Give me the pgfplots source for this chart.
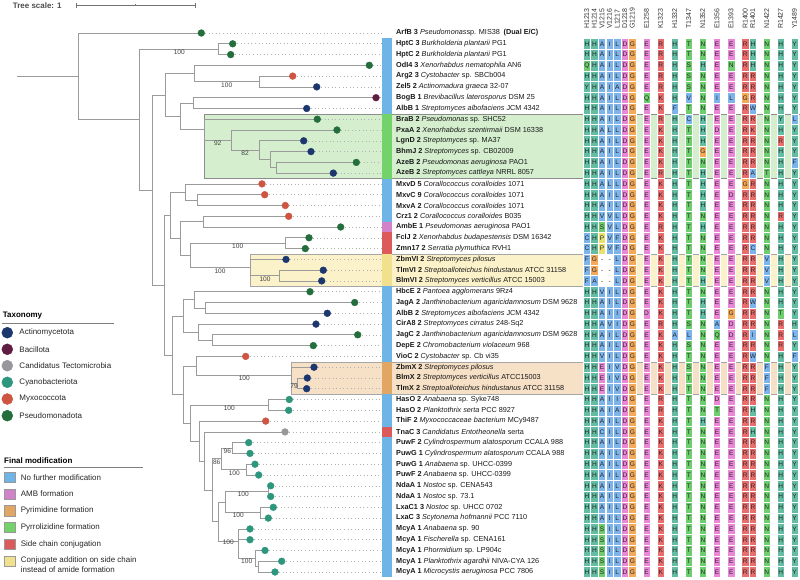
\documentclass[border=0pt]{standalone}
\usepackage{pgfplots}
\pgfplotsset{compat=1.18}
\usepackage{pgfplotstable}
\usepackage{fontspec}
\setmainfont{Liberation Sans}
\definecolor{treec}{RGB}{155,155,155}
\definecolor{act}{RGB}{28,55,110}
\definecolor{bac}{RGB}{95,30,65}
\definecolor{cand}{RGB}{150,150,155}
\definecolor{cya}{RGB}{45,150,125}
\definecolor{myx}{RGB}{205,85,65}
\definecolor{pse}{RGB}{35,110,60}
\definecolor{fNone}{RGB}{110,180,230}
\definecolor{fAMB}{RGB}{210,130,200}
\definecolor{fPyr}{RGB}{225,165,100}
\definecolor{fPyz}{RGB}{115,210,105}
\definecolor{fSide}{RGB}{220,90,90}
\definecolor{fConj}{RGB}{242,225,140}
\definecolor{bGreen}{RGB}{212,238,206}
\definecolor{bYel}{RGB}{252,242,202}
\definecolor{bOra}{RGB}{246,224,198}
\pgfdeclareplotmark{cell}{\pgfpathrectangle{\pgfpoint{-3.7bp}{-5.39bp}}{\pgfpoint{7.4bp}{10.78bp}}\pgfusepathqfillstroke}
\pgfplotsset{colormap={aacol}{rgb255=(255,255,255) rgb255=(100,188,162) rgb255=(125,180,235) rgb255=(235,135,215) rgb255=(232,110,110) rgb255=(110,205,110) rgb255=(245,170,90) rgb255=(232,225,110)}}
\pgfplotsset{
 br/.style={color=treec, line width=0.8bp, mark=none},
 dl/.style={color=black!30, line width=0.6bp, dash pattern=on 1bp off 2.6bp, mark=none},
 alc/.style={scatter, only marks, mark=cell, line width=0.3bp, point meta=explicit,
   colormap name=aacol, point meta min=0, point meta max=7,
   scatter/use mapped color={draw=white, fill=mapped color}},
}
% residue colour classes: 0 gap, 1 H/Y, 2 A I L V F W C, 3 D E, 4 K R, 5 N Q S T, 6 G, 7 P
\pgfplotstableread{
y k1 k2 k3 k4 k5 k6 k7 k8 k9 k10 k11 k12 k13 k14 k15 k16 k17 k18 k19
43.8 1 1 2 2 2 3 6 3 4 1 5 5 3 3 4 1 5 1 1
54.6 1 1 2 2 2 3 6 3 4 1 5 5 3 3 4 1 5 1 1
65.3 5 1 2 2 2 3 6 3 4 1 5 1 3 5 4 1 5 1 1
76.1 1 1 2 2 2 3 6 3 4 1 5 5 3 3 4 4 5 1 1
86.9 1 1 2 2 2 3 6 3 4 1 5 5 3 3 4 4 5 1 1
97.7 1 1 2 2 2 3 6 5 4 1 2 5 2 2 6 4 5 1 1
108.5 1 1 2 2 2 3 6 3 4 2 5 5 3 3 4 2 5 1 1
119.2 1 1 2 2 2 3 6 3 4 1 2 1 3 3 4 4 5 1 2
130.0 1 1 2 2 2 3 6 3 4 1 5 1 3 3 4 4 5 1 1
140.8 1 1 2 2 2 3 6 3 4 1 5 1 3 3 4 4 5 4 1
151.6 1 1 2 2 2 3 6 3 4 1 5 6 3 3 4 4 5 1 1
162.4 1 1 2 2 2 3 6 3 4 1 5 5 3 3 4 4 5 1 2
173.1 1 1 2 2 2 3 6 3 4 1 5 1 3 3 4 2 5 1 1
183.9 1 1 2 2 2 3 6 3 4 1 5 1 3 3 6 4 5 1 1
194.7 1 1 2 2 2 3 6 3 4 1 5 1 3 3 4 4 5 1 1
205.5 1 1 2 2 2 3 6 3 4 1 5 1 3 3 4 4 5 1 1
216.3 1 1 2 2 2 3 6 3 4 1 5 5 3 3 4 4 5 4 1
227.0 1 1 5 2 2 3 6 3 4 1 5 1 3 3 4 4 5 1 1
237.8 2 1 7 2 2 3 6 3 4 1 5 5 3 3 4 4 5 1 1
248.6 2 1 7 2 2 3 6 3 4 1 5 5 3 3 4 2 5 1 1
259.4 2 6 0 0 2 3 6 3 4 1 5 5 3 3 4 4 2 1 1
270.2 2 6 0 0 2 3 6 3 4 1 5 5 3 3 4 4 2 1 1
280.9 2 2 0 0 2 3 6 3 4 1 5 1 3 3 4 4 2 1 1
291.7 1 1 2 2 2 3 6 3 4 1 5 5 3 3 4 4 5 1 1
302.5 1 1 2 2 2 3 6 3 4 1 5 1 3 3 4 2 5 1 1
313.3 1 1 2 2 2 3 6 3 4 1 5 1 3 6 4 4 5 5 1
324.1 1 1 2 2 2 3 6 3 4 1 5 5 2 3 4 4 5 4 1
334.8 1 1 2 2 2 3 6 3 4 2 2 5 5 3 4 2 5 4 2
345.6 1 1 2 2 2 3 6 3 4 1 5 5 3 3 4 4 5 4 1
356.4 1 1 2 2 2 3 6 3 4 1 5 5 3 3 4 2 5 1 2
367.2 1 1 3 2 2 3 6 3 4 1 5 5 3 3 4 4 2 1 1
378.0 1 1 3 2 2 3 6 3 4 1 5 5 3 3 4 4 2 1 1
388.7 1 1 3 2 2 3 6 3 4 1 5 5 3 3 4 4 2 1 1
399.5 1 1 2 2 2 3 6 3 4 1 5 5 3 3 4 4 5 1 1
410.3 1 1 2 2 2 3 6 3 4 1 5 5 5 3 4 1 5 1 1
421.1 1 1 2 2 2 3 6 3 4 1 5 1 3 3 4 4 5 1 1
431.9 1 1 2 2 2 3 6 3 4 1 5 5 3 3 4 1 5 1 1
442.6 1 1 2 2 2 3 6 3 4 1 5 5 3 3 4 4 5 1 1
453.4 1 1 2 2 2 3 6 3 4 1 5 5 3 3 4 4 5 1 1
464.2 1 1 2 2 2 3 6 3 4 1 5 5 3 3 4 4 5 1 1
475.0 1 1 2 2 2 3 6 3 4 1 5 5 3 3 4 4 5 1 1
485.8 1 1 2 2 2 3 6 3 4 1 5 5 3 3 4 4 5 1 1
496.5 1 1 2 2 2 3 6 3 4 1 5 5 3 3 4 4 5 1 1
507.3 1 1 2 2 2 3 6 3 4 1 5 5 3 3 4 4 5 1 1
518.1 1 1 2 2 2 3 6 3 4 1 5 5 3 3 4 4 5 1 1
528.9 1 1 5 2 2 3 6 3 4 1 5 5 3 3 4 4 5 1 1
539.7 1 1 5 2 2 3 6 3 4 1 5 5 3 3 4 4 5 1 1
550.4 1 1 5 2 2 3 6 3 4 1 5 5 3 3 4 4 5 1 1
561.2 1 1 5 2 2 3 6 3 4 1 5 5 3 3 4 4 5 1 1
572.0 1 1 5 2 2 3 6 3 4 1 5 5 3 3 4 4 5 1 1
}\alncode
% residue letters of one alignment row
\def\alA#1{\ifx\relax#1\else\makebox[7.6bp]{#1}\expandafter\alA\fi}
\def\alS#1{\ifx\relax#1\else\hspace{6.5bp}\makebox[7.6bp]{#1}\expandafter\alS\fi}
\def\alT#1{\ifx\relax#1\else\hspace{6.3bp}\makebox[7.6bp]{#1}\expandafter\alT\fi}
\newcommand\alrow[4]{\alA#1\relax\alS#2\relax\makebox[7.6bp]{#3}\alT#4\relax}
\begin{document}
\begin{tikzpicture}
\begin{axis}[name=ax, width=800bp, height=579bp, scale only axis,
  xmin=0, xmax=800, ymin=0, ymax=579, y dir=reverse, hide axis, clip=false]
% highlight boxes
\addplot[fill=bGreen, draw=black!45, line width=0.5bp] coordinates {(204.3,113.9) (800,113.9) (800,178.5) (204.3,178.5)} --cycle;
\addplot[fill=bYel, draw=black!35, line width=0.5bp] coordinates {(250,254.0) (800,254.0) (800,286.3) (250,286.3)} --cycle;
\addplot[fill=bOra, draw=black!35, line width=0.5bp] coordinates {(291.7,361.8) (800,361.8) (800,394.1) (291.7,394.1)} --cycle;
% colour strip
\addplot[fill=fNone, draw=none] coordinates {(382,38.4) (392,38.4) (392,113.9) (382,113.9)} --cycle;
\addplot[fill=fPyz, draw=none] coordinates {(382,113.9) (392,113.9) (392,178.5) (382,178.5)} --cycle;
\addplot[fill=fNone, draw=none] coordinates {(382,178.5) (392,178.5) (392,221.6) (382,221.6)} --cycle;
\addplot[fill=fAMB, draw=none] coordinates {(382,221.6) (392,221.6) (392,232.4) (382,232.4)} --cycle;
\addplot[fill=fSide, draw=none] coordinates {(382,232.4) (392,232.4) (392,254.0) (382,254.0)} --cycle;
\addplot[fill=fConj, draw=none] coordinates {(382,254.0) (392,254.0) (392,286.3) (382,286.3)} --cycle;
\addplot[fill=fNone, draw=none] coordinates {(382,286.3) (392,286.3) (392,361.8) (382,361.8)} --cycle;
\addplot[fill=fPyr, draw=none] coordinates {(382,361.8) (392,361.8) (392,394.1) (382,394.1)} --cycle;
\addplot[fill=fNone, draw=none] coordinates {(382,394.1) (392,394.1) (392,426.5) (382,426.5)} --cycle;
\addplot[fill=fSide, draw=none] coordinates {(382,426.5) (392,426.5) (392,437.3) (382,437.3)} --cycle;
\addplot[fill=fNone, draw=none] coordinates {(382,437.3) (392,437.3) (392,577.4) (382,577.4)} --cycle;
% dotted leader lines
\addplot[dl] coordinates {(205,33.0) (382,33.0)};
\addplot[dl] coordinates {(237,43.8) (382,43.8)};
\addplot[dl] coordinates {(235,54.6) (382,54.6)};
\addplot[dl] coordinates {(373,65.3) (382,65.3)};
\addplot[dl] coordinates {(297,76.1) (382,76.1)};
\addplot[dl] coordinates {(321,86.9) (382,86.9)};
\addplot[dl] coordinates {(380,97.7) (382,97.7)};
\addplot[dl] coordinates {(311,108.5) (382,108.5)};
\addplot[dl] coordinates {(321,119.2) (382,119.2)};
\addplot[dl] coordinates {(341,130.0) (382,130.0)};
\addplot[dl] coordinates {(308,140.8) (382,140.8)};
\addplot[dl] coordinates {(315,151.6) (382,151.6)};
\addplot[dl] coordinates {(360,162.4) (382,162.4)};
\addplot[dl] coordinates {(337,173.1) (382,173.1)};
\addplot[dl] coordinates {(266,183.9) (382,183.9)};
\addplot[dl] coordinates {(269,194.7) (382,194.7)};
\addplot[dl] coordinates {(289,205.5) (382,205.5)};
\addplot[dl] coordinates {(293,216.3) (382,216.3)};
\addplot[dl] coordinates {(345,227.0) (382,227.0)};
\addplot[dl] coordinates {(313,237.8) (382,237.8)};
\addplot[dl] coordinates {(309,248.6) (382,248.6)};
\addplot[dl] coordinates {(290,259.4) (382,259.4)};
\addplot[dl] coordinates {(327,270.2) (382,270.2)};
\addplot[dl] coordinates {(326,280.9) (382,280.9)};
\addplot[dl] coordinates {(314,291.7) (382,291.7)};
\addplot[dl] coordinates {(359,302.5) (382,302.5)};
\addplot[dl] coordinates {(331,313.3) (382,313.3)};
\addplot[dl] coordinates {(320,324.1) (382,324.1)};
\addplot[dl] coordinates {(362,334.8) (382,334.8)};
\addplot[dl] coordinates {(317,345.6) (382,345.6)};
\addplot[dl] coordinates {(250,356.4) (382,356.4)};
\addplot[dl] coordinates {(318,367.2) (382,367.2)};
\addplot[dl] coordinates {(311,378.0) (382,378.0)};
\addplot[dl] coordinates {(311,388.7) (382,388.7)};
\addplot[dl] coordinates {(293,399.5) (382,399.5)};
\addplot[dl] coordinates {(293,410.3) (382,410.3)};
\addplot[dl] coordinates {(270,421.1) (382,421.1)};
\addplot[dl] coordinates {(289,431.9) (382,431.9)};
\addplot[dl] coordinates {(253,442.6) (382,442.6)};
\addplot[dl] coordinates {(254,453.4) (382,453.4)};
\addplot[dl] coordinates {(259,464.2) (382,464.2)};
\addplot[dl] coordinates {(263,475.0) (382,475.0)};
\addplot[dl] coordinates {(275,485.8) (382,485.8)};
\addplot[dl] coordinates {(275,496.5) (382,496.5)};
\addplot[dl] coordinates {(277,507.3) (382,507.3)};
\addplot[dl] coordinates {(272,518.1) (382,518.1)};
\addplot[dl] coordinates {(254,528.9) (382,528.9)};
\addplot[dl] coordinates {(254,539.7) (382,539.7)};
\addplot[dl] coordinates {(269,550.4) (382,550.4)};
\addplot[dl] coordinates {(286,561.2) (382,561.2)};
\addplot[dl] coordinates {(279,572.0) (382,572.0)};
% tree
\addplot[br] coordinates {(17.3,76.4) (78.3,76.4)};
\addplot[br] coordinates {(201.3,33.0) (78.3,33.0) (78.3,119.7) (139.3,119.7)};
\addplot[br] coordinates {(218.3,49.2) (139.3,49.2) (139.3,190.1) (152,190.1)};
\addplot[br] coordinates {(232.7,43.8) (218.3,43.8) (218.3,54.6) (230.7,54.6)};
\addplot[br] coordinates {(165.7,94.9) (152,94.9) (152,285.3) (164.3,285.3)};
\addplot[br] coordinates {(194,73.4) (165.7,73.4) (165.7,116.4) (180,116.4)};
\addplot[br] coordinates {(369.3,65.3) (194,65.3) (194,81.5) (259.3,81.5)};
\addplot[br] coordinates {(292.7,76.1) (259.3,76.1) (259.3,86.9) (316.7,86.9)};
\addplot[br] coordinates {(193.7,103.1) (180,103.1) (180,129.7) (204.3,129.7)};
\addplot[br] coordinates {(376,97.7) (193.7,97.7) (193.7,108.5) (306.7,108.5)};
\addplot[br] coordinates {(317.3,119.2) (204.3,119.2) (204.3,140.1) (231,140.1)};
\addplot[br] coordinates {(337,130.0) (231,130.0) (231,150.2) (259.3,150.2)};
\addplot[br] coordinates {(303.7,140.8) (259.3,140.8) (259.3,159.7) (270.7,159.7)};
\addplot[br] coordinates {(311,151.6) (270.7,151.6) (270.7,167.8) (276.7,167.8)};
\addplot[br] coordinates {(356.3,162.4) (276.7,162.4) (276.7,173.1) (333.3,173.1)};
\addplot[br] coordinates {(170.3,215.3) (164.3,215.3) (164.3,355.3) (172.3,355.3)};
\addplot[br] coordinates {(185.3,192.0) (170.3,192.0) (170.3,238.5) (180.3,238.5)};
\addplot[br] coordinates {(262,183.9) (185.3,183.9) (185.3,200.1) (197.3,200.1)};
\addplot[br] coordinates {(264.7,194.7) (197.3,194.7) (197.3,205.5) (285.3,205.5)};
\addplot[br] coordinates {(203.3,221.7) (180.3,221.7) (180.3,255.3) (190,255.3)};
\addplot[br] coordinates {(288.7,216.3) (203.3,216.3) (203.3,227.0) (340.7,227.0)};
\addplot[br] coordinates {(285,243.2) (190,243.2) (190,267.5) (250,267.5)};
\addplot[br] coordinates {(309,237.8) (285,237.8) (285,248.6) (305.3,248.6)};
\addplot[br] coordinates {(286,259.4) (250,259.4) (250,275.6) (279.3,275.6)};
\addplot[br] coordinates {(323.3,270.2) (279.3,270.2) (279.3,280.9) (321.7,280.9)};
\addplot[br] coordinates {(183,316.0) (172.3,316.0) (172.3,394.5) (183,394.5)};
\addplot[br] coordinates {(194,299.8) (183,299.8) (183,332.2) (198.7,332.2)};
\addplot[br] coordinates {(310,291.7) (194,291.7) (194,307.9) (205,307.9)};
\addplot[br] coordinates {(354.7,302.5) (205,302.5) (205,313.3) (327.3,313.3)};
\addplot[br] coordinates {(316,324.1) (198.7,324.1) (198.7,340.2) (212.7,340.2)};
\addplot[br] coordinates {(357.7,334.8) (212.7,334.8) (212.7,345.6) (313.3,345.6)};
\addplot[br] coordinates {(196.7,365.9) (183,365.9) (183,423.0) (190,423.0)};
\addplot[br] coordinates {(245.7,356.4) (196.7,356.4) (196.7,375.3) (291.7,375.3)};
\addplot[br] coordinates {(314,367.2) (291.7,367.2) (291.7,383.4) (297.7,383.4)};
\addplot[br] coordinates {(307.3,378.0) (297.7,378.0) (297.7,388.7) (306.7,388.7)};
\addplot[br] coordinates {(268.7,404.9) (190,404.9) (190,441.1) (199.3,441.1)};
\addplot[br] coordinates {(289.3,399.5) (268.7,399.5) (268.7,410.3) (288.7,410.3)};
\addplot[br] coordinates {(265.7,421.1) (199.3,421.1) (199.3,461.0) (204,461.0)};
\addplot[br] coordinates {(285,431.9) (204,431.9) (204,490.2) (212.3,490.2)};
\addplot[br] coordinates {(221.7,458.8) (212.3,458.8) (212.3,521.5) (218.3,521.5)};
\addplot[br] coordinates {(232.7,448.0) (221.7,448.0) (221.7,469.6) (246,469.6)};
\addplot[br] coordinates {(248.7,442.6) (232.7,442.6) (232.7,453.4) (250,453.4)};
\addplot[br] coordinates {(255,464.2) (246,464.2) (246,475.0) (258.7,475.0)};
\addplot[br] coordinates {(225,502.0) (218.3,502.0) (218.3,541) (238.3,541)};
\addplot[br] coordinates {(268.3,491.2) (225,491.2) (225,512.7) (260,512.7)};
\addplot[br] coordinates {(270.7,485.8) (268.3,485.8) (268.3,496.5) (270.7,496.5)};
\addplot[br] coordinates {(273.3,507.3) (260,507.3) (260,518.1) (268.3,518.1)};
\addplot[br] coordinates {(250,528.9) (238.3,528.9) (238.3,558.5) (255,558.5)};
\addplot[br] coordinates {(238.3,539.7) (250,539.7)};
\addplot[br] coordinates {(265,550.4) (255,550.4) (255,566.6) (258.3,566.6)};
\addplot[br] coordinates {(281.7,561.2) (258.3,561.2) (258.3,572.0) (275,572.0)};
% tips
\addplot[only marks, mark=*, mark size=3.4bp, color=pse] coordinates {(201.3,33.0) (232.7,43.8) (230.7,54.6) (369.3,65.3) (317.3,119.2) (337,130.0) (356.3,162.4) (340.7,227.0) (309,237.8) (305.3,248.6) (310,291.7) (354.7,302.5) (357.7,334.8) (313.3,345.6)};
\addplot[only marks, mark=*, mark size=3.4bp, color=myx] coordinates {(292.7,76.1) (262,183.9) (264.7,194.7) (285.3,205.5) (288.7,216.3) (245.7,356.4) (265.7,421.1)};
\addplot[only marks, mark=*, mark size=3.4bp, color=act] coordinates {(316.7,86.9) (306.7,108.5) (303.7,140.8) (311,151.6) (333.3,173.1) (286,259.4) (323.3,270.2) (321.7,280.9) (327.3,313.3) (316,324.1) (314,367.2) (307.3,378.0) (306.7,388.7)};
\addplot[only marks, mark=*, mark size=3.4bp, color=bac] coordinates {(376,97.7)};
\addplot[only marks, mark=*, mark size=3.4bp, color=cand] coordinates {(285,431.9)};
\addplot[only marks, mark=*, mark size=3.4bp, color=cya] coordinates {(289.3,399.5) (288.7,410.3) (248.7,442.6) (250,453.4) (255,464.2) (258.7,475.0) (270.7,485.8) (270.7,496.5) (273.3,507.3) (268.3,518.1) (250,528.9) (250,539.7) (265,550.4) (281.7,561.2) (275,572.0)};
% bootstrap
\begin{scope}[every node/.style={font=\fontsize{6.6}{7}\selectfont, text=black!75, inner sep=0pt}]
\node at (179.3,52.7) {100};
\node at (226.7,85) {100};
\node at (217.7,143.3) {92};
\node at (245,153.7) {82};
\node at (237.7,246.7) {100};
\node at (220,271) {100};
\node at (265,279) {100};
\node at (244.3,378.7) {100};
\node at (294,386.3) {79};
\node at (229.3,408.3) {100};
\node at (227.3,451.7) {96};
\node at (216.7,462.3) {86};
\node at (234.3,473.3) {100};
\node at (243.3,494.3) {100};
\node at (238.3,515.7) {100};
\node at (228.3,542.3) {100};
\node at (246.7,561.7) {100};
\end{scope}
% labels
\begin{scope}[every node/.style={anchor=west, inner sep=0pt, font=\fontsize{7.3}{8}\selectfont, text=black!90}]
\node at (396,33.0) {\textbf{ArfB 3} \textit{Pseudomonas}sp. MIS38\enspace\textbf{(Dual E/C)}};
\node at (396,43.8) {\textbf{HptC 3} \textit{Burkholderia plantarii} PG1};
\node at (396,54.6) {\textbf{HptC 2} \textit{Burkholderia plantarii} PG1};
\node at (396,65.3) {\textbf{OdI4 3} \textit{Xenorhabdus nematophila} AN6};
\node at (396,76.1) {\textbf{Arg2 3} \textit{Cystobacter} sp. SBCb004};
\node at (396,86.9) {\textbf{Zel5 2} \textit{Actinomadura graeca} 32-07};
\node at (396,97.7) {\textbf{BogB 1} \textit{Brevibacillus laterosporus} DSM 25};
\node at (396,108.5) {\textbf{AlbB 1} \textit{Streptomyces albofaciens} JCM 4342};
\node at (396,119.2) {\textbf{BraB 2} \textit{Pseudomonas} sp. SHC52};
\node at (396,130.0) {\textbf{PxaA 2} \textit{Xenorhabdus szentirmaii} DSM 16338};
\node at (396,140.8) {\textbf{LgnD 2} \textit{Streptomyces} sp. MA37};
\node at (396,151.6) {\textbf{BhmJ 2} \textit{Streptomyces} sp. CB02009};
\node at (396,162.4) {\textbf{AzeB 2} \textit{Pseudomonas aeruginosa} PAO1};
\node at (396,173.1) {\textbf{AzeB 2} \textit{Streptomyces cattleya} NRRL 8057};
\node at (396,183.9) {\textbf{MxvD 5} \textit{Corallococcus coralloides} 1071};
\node at (396,194.7) {\textbf{MxvC 9} \textit{Corallococcus coralloides} 1071};
\node at (396,205.5) {\textbf{MxvA 2} \textit{Corallococcus coralloides} 1071};
\node at (396,216.3) {\textbf{Crz1 2} \textit{Corallococcus coralloides} B035};
\node at (396,227.0) {\textbf{AmbE 1} \textit{Pseudomonas aeruginosa} PAO1};
\node at (396,237.8) {\textbf{FclJ 2} \textit{Xenorhabdus budapestensis} DSM 16342};
\node at (396,248.6) {\textbf{Zmn17 2} \textit{Serratia plymuthica} RVH1};
\node at (396,259.4) {\textbf{ZbmVI 2} \textit{Streptomyces pilosus}};
\node at (396,270.2) {\textbf{TlmVI 2} \textit{Streptoalloteichus hindustanus} ATCC 31158};
\node at (396,280.9) {\textbf{BlmVI 2} \textit{Streptomyces verticillus} ATCC 15003};
\node at (396,291.7) {\textbf{HbcE 2} \textit{Pantoea agglomerans} 9Rz4};
\node at (396,302.5) {\textbf{JagA 2} \textit{Janthinobacterium agaricidamnosum} DSM 9628};
\node at (396,313.3) {\textbf{AlbB 2} \textit{Streptomyces albofaciens} JCM 4342};
\node at (396,324.1) {\textbf{CirA8 2} \textit{Streptomyces cirratus} 248-Sq2};
\node at (396,334.8) {\textbf{JagC 2} \textit{Janthinobacterium agaricidamnosum} DSM 9628};
\node at (396,345.6) {\textbf{DepE 2} \textit{Chromobacterium violaceum} 968};
\node at (396,356.4) {\textbf{VioC 2} \textit{Cystobacter} sp. Cb vi35};
\node at (396,367.2) {\textbf{ZbmX 2} \textit{Streptomyces pilosus}};
\node at (396,378.0) {\textbf{BlmX 2} \textit{Streptomyces verticillus} ATCC15003};
\node at (396,388.7) {\textbf{TlmX 2} \textit{Streptoalloteichus hindustanus} ATCC 31158};
\node at (396,399.5) {\textbf{HasO 2} \textit{Anabaena} sp. Syke748};
\node at (396,410.3) {\textbf{HasO 2} \textit{Planktothrix serta} PCC 8927};
\node at (396,421.1) {\textbf{ThiF 2} \textit{Myxococcaceae bacterium} MCy9487};
\node at (396,431.9) {\textbf{TnaC 3} \textit{Candidatus Entotheonella} serta};
\node at (396,442.6) {\textbf{PuwF 2} \textit{Cylindrospermum alatosporum} CCALA 988};
\node at (396,453.4) {\textbf{PuwG 1} \textit{Cylindrospermum alatosporum} CCALA 988};
\node at (396,464.2) {\textbf{PuwG 1} \textit{Anabaena} sp. UHCC-0399};
\node at (396,475.0) {\textbf{PuwF 2} \textit{Anabaena} sp. UHCC-0399};
\node at (396,485.8) {\textbf{NdaA 1} \textit{Nostoc} sp. CENA543};
\node at (396,496.5) {\textbf{NdaA 1} \textit{Nostoc} sp. 73.1};
\node at (396,507.3) {\textbf{LxaC1 3} \textit{Nostoc} sp. UHCC 0702};
\node at (396,518.1) {\textbf{LxaC 3} \textit{Scytonema hofmannii} PCC 7110};
\node at (396,528.9) {\textbf{McyA 1} \textit{Anabaena} sp. 90};
\node at (396,539.7) {\textbf{McyA 1} \textit{Fischerella} sp. CENA161};
\node at (396,550.4) {\textbf{McyA 1} \textit{Phormidium} sp. LP904c};
\node at (396,561.2) {\textbf{McyA 1} \textit{Planktothrix agardhii} NIVA-CYA 126};
\node at (396,572.0) {\textbf{McyA 1} \textit{Microcystis aeruginosa} PCC 7806};
\end{scope}
% alignment cells
\addplot[alc] table[x expr=586.7, y=y, meta=k1] {\alncode};
\addplot[alc] table[x expr=594.3, y=y, meta=k2] {\alncode};
\addplot[alc] table[x expr=601.9, y=y, meta=k3] {\alncode};
\addplot[alc] table[x expr=609.5, y=y, meta=k4] {\alncode};
\addplot[alc] table[x expr=617.1, y=y, meta=k5] {\alncode};
\addplot[alc] table[x expr=624.7, y=y, meta=k6] {\alncode};
\addplot[alc] table[x expr=632.3, y=y, meta=k7] {\alncode};
\addplot[alc] table[x expr=646.4, y=y, meta=k8] {\alncode};
\addplot[alc] table[x expr=660.5, y=y, meta=k9] {\alncode};
\addplot[alc] table[x expr=674.6, y=y, meta=k10] {\alncode};
\addplot[alc] table[x expr=688.7, y=y, meta=k11] {\alncode};
\addplot[alc] table[x expr=702.8, y=y, meta=k12] {\alncode};
\addplot[alc] table[x expr=716.9, y=y, meta=k13] {\alncode};
\addplot[alc] table[x expr=731.0, y=y, meta=k14] {\alncode};
\addplot[alc] table[x expr=745.1, y=y, meta=k15] {\alncode};
\addplot[alc] table[x expr=752.7, y=y, meta=k16] {\alncode};
\addplot[alc] table[x expr=766.6, y=y, meta=k17] {\alncode};
\addplot[alc] table[x expr=780.5, y=y, meta=k18] {\alncode};
\addplot[alc] table[x expr=794.4, y=y, meta=k19] {\alncode};
% headers
\begin{scope}[every node/.style={rotate=90, anchor=west, inner sep=0pt, font=\fontsize{7}{8}\selectfont, text=black!80}]
\node at (586.7,29) {H1213};
\node at (594.3,29) {H1214};
\node at (601.9,29) {V1215};
\node at (609.5,29) {V1216};
\node at (617.1,29) {L1217};
\node at (624.7,29) {D1218};
\node at (632.3,29) {G1219};
\node at (646.4,29) {E1258};
\node at (660.5,29) {K1323};
\node at (674.6,29) {H1332};
\node at (688.7,29) {T1347};
\node at (702.8,29) {N1352};
\node at (716.9,29) {E1356};
\node at (731.0,29) {E1393};
\node at (745.1,29) {R1400};
\node at (752.7,29) {R1401};
\node at (766.6,29) {N1422};
\node at (780.5,29) {R1427};
\node at (794.4,29) {Y1489};
\end{scope}
% tree scale
\node[anchor=west, inner sep=0pt, font=\bfseries\fontsize{8}{9}\selectfont, text=black!70] at (12.7,5.3) {Tree scale: 1};
\addplot[color=black!55, line width=0.9bp] coordinates {(76,5.3) (195,5.3)};
\addplot[color=black!55, line width=0.9bp] coordinates {(76,2.6) (76,8)};
\addplot[color=black!55, line width=0.9bp] coordinates {(195,2.6) (195,8)};
\addplot[color=black!55, line width=0.7bp] coordinates {(135,4.3) (135,6.3)};
% legend: taxonomy
\node[anchor=west, inner sep=0pt, font=\bfseries\fontsize{8}{9}\selectfont] at (2.7,316) {Taxonomy};
\addplot[color=black!50, line width=0.9bp] coordinates {(2,323.3) (114,323.3)};
\addplot[only marks, mark=*, mark size=5.5bp, color=act] coordinates {(7.3,332.7)};
\addplot[only marks, mark=*, mark size=5.5bp, color=bac] coordinates {(7.3,349.3)};
\addplot[only marks, mark=*, mark size=5.5bp, color=cand] coordinates {(7.3,365.7)};
\addplot[only marks, mark=*, mark size=5.5bp, color=cya] coordinates {(7.3,382.3)};
\addplot[only marks, mark=*, mark size=5.5bp, color=myx] coordinates {(7.3,399.0)};
\addplot[only marks, mark=*, mark size=5.5bp, color=pse] coordinates {(7.3,415.7)};
\begin{scope}[every node/.style={anchor=west, inner sep=0pt, font=\fontsize{8}{9}\selectfont, text=black!85}]
\node at (19.3,332.7) {Actinomycetota};
\node at (19.3,349.3) {Bacillota};
\node at (19.3,365.7) {Candidatus Tectomicrobia};
\node at (19.3,382.3) {Cyanobacteriota};
\node at (19.3,399.0) {Myxococcota};
\node at (19.3,415.7) {Pseudomonadota};
\end{scope}
% legend: final modification
\node[anchor=west, inner sep=0pt, font=\bfseries\fontsize{8}{9}\selectfont] at (4,461) {Final modification};
\addplot[color=black!50, line width=0.9bp] coordinates {(4,467.7) (142.7,467.7)};
\addplot[only marks, mark=square*, mark size=5.3bp, mark options={fill=fNone, draw=black!40, line width=0.4bp}] coordinates {(9.5,477.3)};
\addplot[only marks, mark=square*, mark size=5.3bp, mark options={fill=fAMB, draw=black!40, line width=0.4bp}] coordinates {(9.5,494.0)};
\addplot[only marks, mark=square*, mark size=5.3bp, mark options={fill=fPyr, draw=black!40, line width=0.4bp}] coordinates {(9.5,510.7)};
\addplot[only marks, mark=square*, mark size=5.3bp, mark options={fill=fPyz, draw=black!40, line width=0.4bp}] coordinates {(9.5,527.3)};
\addplot[only marks, mark=square*, mark size=5.3bp, mark options={fill=fSide, draw=black!40, line width=0.4bp}] coordinates {(9.5,544.0)};
\addplot[only marks, mark=square*, mark size=5.3bp, mark options={fill=fConj, draw=black!40, line width=0.4bp}] coordinates {(9.5,561.0)};
\begin{scope}[every node/.style={anchor=west, inner sep=0pt, font=\fontsize{8}{9}\selectfont, text=black!85}]
\node at (20.7,477.3) {No further modification};
\node at (20.7,494.0) {AMB formation};
\node at (20.7,510.7) {Pyrimidine formation};
\node at (20.7,527.3) {Pyrrolizidine formation};
\node at (20.7,544.0) {Side chain conjugation};
\node at (20.7,560.7) {Conjugate addition on side chain};
\node at (20.7,569.5) {instead of amide formation};
\end{scope}
\end{axis}
% alignment letters, drawn on top of the cells (axis units: 1 unit = 1bp, y downwards from the top edge)
\begin{scope}[shift={(ax.north west)}, x=1bp, y=-1bp, every node/.style={anchor=west, inner sep=0pt, text height=4.7bp, text depth=0pt, font=\fontsize{6.6}{7}\selectfont, text=black!85}]
\node at (582.9,43.8) {\alrow{HHAILDG}{ERHTNEER}{H}{NHY}};
\node at (582.9,54.6) {\alrow{HHAILDG}{ERHTNEER}{H}{NHY}};
\node at (582.9,65.3) {\alrow{QHAILDG}{ERHSHENR}{H}{NHY}};
\node at (582.9,76.1) {\alrow{HHAILDG}{ERHSNEER}{R}{NHY}};
\node at (582.9,86.9) {\alrow{YHAIADG}{ERHSNEER}{R}{NHY}};
\node at (582.9,97.7) {\alrow{HHAILDG}{QKHVNILG}{R}{NHY}};
\node at (582.9,108.5) {\alrow{HHAILDG}{EKFTNEER}{W}{NHY}};
\node at (582.9,119.2) {\alrow{HHAILDG}{ERHCHEER}{R}{NYL}};
\node at (582.9,130.0) {\alrow{HHALLDG}{EKHTHDER}{K}{NHY}};
\node at (582.9,140.8) {\alrow{HHAILDG}{EKHTHEER}{R}{NRY}};
\node at (582.9,151.6) {\alrow{HHAILDG}{EKHTGEER}{R}{NHY}};
\node at (582.9,162.4) {\alrow{HHAILDG}{EKHTNEER}{R}{NHF}};
\node at (582.9,173.1) {\alrow{HHAILDG}{ERHTHEER}{A}{THY}};
\node at (582.9,183.9) {\alrow{HHALLDG}{EKHTHEEG}{R}{NHY}};
\node at (582.9,194.7) {\alrow{HHAILDG}{EKHTHEDR}{R}{NHY}};
\node at (582.9,205.5) {\alrow{HHAILDG}{EKHTHEER}{R}{NHY}};
\node at (582.9,216.3) {\alrow{HHVVLDG}{EKHTNEER}{R}{NRY}};
\node at (582.9,227.0) {\alrow{HHSVLDG}{ERHTHEER}{R}{NHY}};
\node at (582.9,237.8) {\alrow{CHPVFDG}{EKHTNEER}{R}{NHY}};
\node at (582.9,248.6) {\alrow{CHPVFDG}{EKHTNEER}{C}{NHY}};
\node at (582.9,259.4) {\alrow{FG--LDG}{EKHTNEER}{R}{VHY}};
\node at (582.9,270.2) {\alrow{FG--LDG}{EKHTNEER}{R}{VHY}};
\node at (582.9,280.9) {\alrow{FA--LDG}{EKHTHEER}{R}{VHY}};
\node at (582.9,291.7) {\alrow{HHVILDG}{EKHTNEER}{R}{NHY}};
\node at (582.9,302.5) {\alrow{HHAILDG}{EKHTHEER}{W}{NHY}};
\node at (582.9,313.3) {\alrow{HHAIIDG}{DKHTHEGR}{R}{NTY}};
\node at (582.9,324.1) {\alrow{HHAVIDG}{ERHSNADR}{R}{NRH}};
\node at (582.9,334.8) {\alrow{HHAILDG}{EKALNQDR}{I}{NRL}};
\node at (582.9,345.6) {\alrow{HHAILDG}{EKHSNEER}{R}{NRY}};
\node at (582.9,356.4) {\alrow{HHVILDG}{EKHTNEER}{W}{NHF}};
\node at (582.9,367.2) {\alrow{HHEIVDG}{EKHSNEER}{R}{FHY}};
\node at (582.9,378.0) {\alrow{HHEIVDG}{EKHTNEER}{R}{FHY}};
\node at (582.9,388.7) {\alrow{HHEIVDG}{EKHTNEER}{R}{FHY}};
\node at (582.9,399.5) {\alrow{HHAIIDG}{ERHTNDER}{R}{NHY}};
\node at (582.9,410.3) {\alrow{HHAIADG}{ERHTNTER}{H}{NHY}};
\node at (582.9,421.1) {\alrow{HHAILDG}{EKHTHEER}{R}{NHY}};
\node at (582.9,431.9) {\alrow{HHCILDG}{EKHTNEER}{H}{NHY}};
\node at (582.9,442.6) {\alrow{HHAILDG}{EKHTNEER}{R}{NHY}};
\node at (582.9,453.4) {\alrow{HHAILDG}{EKHTNEER}{R}{NHY}};
\node at (582.9,464.2) {\alrow{HHAILDG}{EKHTNEER}{R}{NHY}};
\node at (582.9,475.0) {\alrow{HHAILDG}{EKHTNEER}{R}{NHY}};
\node at (582.9,485.8) {\alrow{HHAILDG}{EKHTNEER}{R}{NHY}};
\node at (582.9,496.5) {\alrow{HHAILDG}{EKHTNEER}{R}{NHY}};
\node at (582.9,507.3) {\alrow{HHAILDG}{EKHTNEER}{R}{NHY}};
\node at (582.9,518.1) {\alrow{HHAILDG}{EKHTNEER}{R}{NHY}};
\node at (582.9,528.9) {\alrow{HHSILDG}{EKHTNEER}{R}{NHY}};
\node at (582.9,539.7) {\alrow{HHSILDG}{EKHTNEER}{R}{NHY}};
\node at (582.9,550.4) {\alrow{HHSILDG}{EKHTNEER}{R}{NHY}};
\node at (582.9,561.2) {\alrow{HHSILDG}{EKHTNEER}{R}{NHY}};
\node at (582.9,572.0) {\alrow{HHSILDG}{EKHTNEER}{R}{NHY}};
\end{scope}
\pgfresetboundingbox
\path[use as bounding box] (ax.south west) rectangle (ax.north east);
\end{tikzpicture}
\end{document}
